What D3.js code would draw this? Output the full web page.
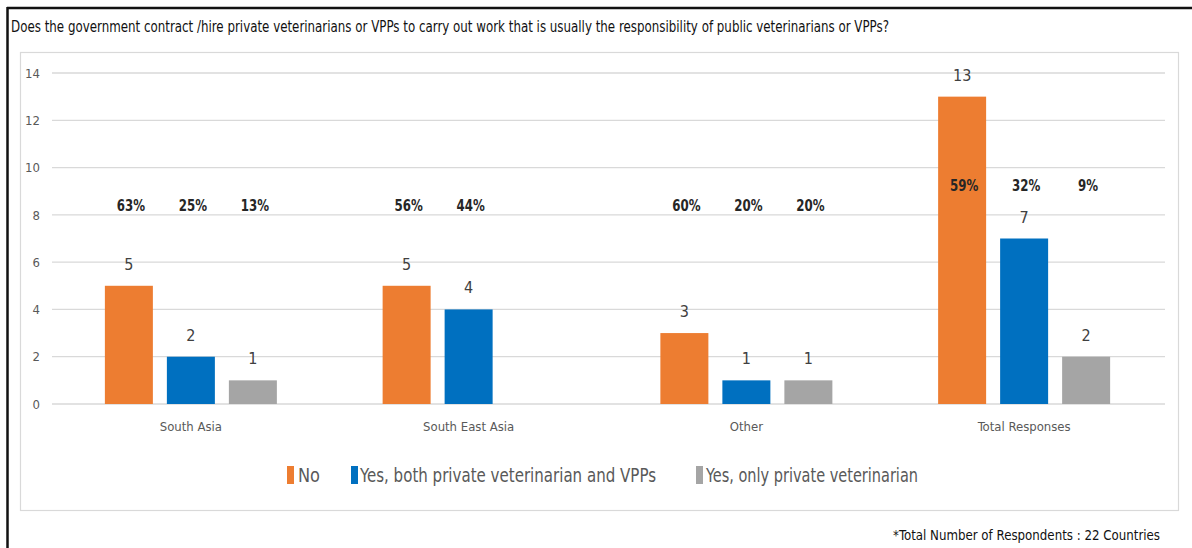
<!DOCTYPE html>
<html>
<head>
<meta charset="utf-8">
<script src="https://cdn.jsdelivr.net/npm/d3@7"></script>
<style>
  body { margin: 0; background: #fff; }
  svg { display: block; }
  svg text { font-family: "DejaVu Sans Condensed", "DejaVu Sans", sans-serif; font-stretch: condensed; }
</style>
</head>
<body>
<div id="chart"></div>
<script>
const CATEGORIES = ["South Asia", "South East Asia", "Other", "Total Responses"];
const SERIES = ["No", "Yes, both private veterinarian and VPPs", "Yes, only private veterinarian"];
const NO_VALUES = [5, 5, 3, 13];
const BOTH_VALUES = [2, 4, 1, 7];
const ONLY_VALUES = [1, null, 1, 2];
const NO_PCT = ["63%", "56%", "60%", "59%"];
const BOTH_PCT = ["25%", "44%", "20%", "32%"];
const ONLY_PCT = ["13%", "", "20%", "9%"];
const Y_TICKS = [0, 2, 4, 6, 8, 10, 12, 14];
const COLORS = ["#ED7D31", "#0070C0", "#A5A5A5"];

const W = 1192, H = 548;
const svg = d3.select('#chart').append('svg').attr('width', W).attr('height', H);

// outer frame (top + left only)
svg.append('line').attr('x1', 7).attr('x2', W).attr('y1', 8).attr('y2', 8)
  .attr('stroke', '#111').attr('stroke-width', 2.5);
svg.append('line').attr('x1', 7.5).attr('x2', 7.5).attr('y1', 7).attr('y2', H)
  .attr('stroke', '#111').attr('stroke-width', 2.5);

svg.append('text')
  .attr('x', 11).attr('y', 32)
  .attr('font-size', '15px').attr('fill', '#111')
  .attr('textLength', 878).attr('lengthAdjust', 'spacingAndGlyphs')
  .text('Does the government contract /hire private veterinarians or VPPs to carry out work that is usually the responsibility of public veterinarians or VPPs?');

// chart area box
svg.append('rect')
  .attr('x', 20.5).attr('y', 52.5).attr('width', 1158).attr('height', 458)
  .attr('fill', 'none').attr('stroke', '#d9d9d9').attr('stroke-width', 1.2);

const x0 = d3.scaleBand().domain(CATEGORIES).range([52, 1163]);
const bw = x0.bandwidth();
const x1 = d3.scaleBand().domain(SERIES)
  .range([bw / 2 - 86, bw / 2 + 86]).paddingInner(14 / 62).paddingOuter(0);
const y = d3.scaleLinear().domain([0, 14]).range([404, 73]);

// gridlines
svg.append('g').selectAll('line').data(Y_TICKS).join('line')
  .attr('x1', 52).attr('x2', 1165)
  .attr('y1', d => y(d)).attr('y2', d => y(d))
  .attr('stroke', '#d9d9d9').attr('stroke-width', 1.3);

// y axis labels
const yAxis = svg.append('g').attr('transform', 'translate(40,0)')
  .call(d3.axisLeft(y).tickValues(Y_TICKS).tickSize(0).tickPadding(0));
yAxis.attr('font-family', null);
yAxis.select('.domain').remove();
yAxis.selectAll('text').attr('font-size', '13px').attr('fill', '#595959');

// x axis labels
const xAxis = svg.append('g').attr('transform', 'translate(0,404)')
  .call(d3.axisBottom(x0).tickSize(0).tickPadding(18));
xAxis.attr('font-family', null);
xAxis.select('.domain').remove();
xAxis.selectAll('text').attr('font-size', '13px').attr('fill', '#595959');

const valueSets = [NO_VALUES, BOTH_VALUES, ONLY_VALUES];
const pctSets = [NO_PCT, BOTH_PCT, ONLY_PCT];

const rows = [];
CATEGORIES.forEach((c, i) => {
  SERIES.forEach((s, j) => {
    rows.push({ cat: c, series: s, idx: j, value: valueSets[j][i], pct: pctSets[j][i], ci: i });
  });
});

const g = svg.append('g');
g.selectAll('rect').data(rows.filter(d => d.value != null)).join('rect')
  .attr('x', d => x0(d.cat) + x1(d.series))
  .attr('width', x1.bandwidth())
  .attr('y', d => y(d.value))
  .attr('height', d => y(0) - y(d.value))
  .attr('fill', d => COLORS[d.idx]);

// value labels
g.selectAll('text.val').data(rows.filter(d => d.value != null)).join('text')
  .attr('class', 'val')
  .attr('x', d => x0(d.cat) + x1(d.series) + x1.bandwidth() / 2)
  .attr('y', d => y(d.value) - 16)
  .attr('text-anchor', 'middle')
  .attr('font-size', '16px').attr('fill', '#404040')
  .text(d => d.value);

// percentage labels
g.selectAll('text.pct').data(rows.filter(d => d.pct)).join('text')
  .attr('class', 'pct')
  .attr('x', d => x0(d.cat) + x1(d.series) + x1.bandwidth() / 2 + 2)
  .attr('y', d => d.ci === 3 ? y(9.27) + 6 : y(8.42) + 6)
  .attr('text-anchor', 'middle')
  .attr('font-size', '16px').attr('font-weight', 'bold').attr('fill', '#262626')
  .text(d => d.pct)
  .each(function() {
    const len = this.getComputedTextLength();
    d3.select(this).attr('textLength', len * 0.82).attr('lengthAdjust', 'spacingAndGlyphs');
  });

// legend
const legendPos = [
  { sx: 287, tx: 298, len: 22 },
  { sx: 351, tx: 360, len: 296 },
  { sx: 696, tx: 706, len: 212 }
];
const lg = svg.append('g');
SERIES.forEach((s, j) => {
  lg.append('rect').attr('x', legendPos[j].sx).attr('y', 466).attr('width', 7).attr('height', 18)
    .attr('fill', COLORS[j]);
  lg.append('text').attr('x', legendPos[j].tx).attr('y', 482)
    .attr('font-size', '20px').attr('fill', '#595959')
    .attr('textLength', legendPos[j].len).attr('lengthAdjust', 'spacingAndGlyphs')
    .text(s);
});

svg.append('text')
  .attr('x', 1160).attr('y', 540)
  .attr('text-anchor', 'end')
  .attr('font-size', '14px').attr('fill', '#111')
  .attr('textLength', 267).attr('lengthAdjust', 'spacingAndGlyphs')
  .text('*Total Number of Respondents : 22 Countries');
</script>
</body>
</html>
